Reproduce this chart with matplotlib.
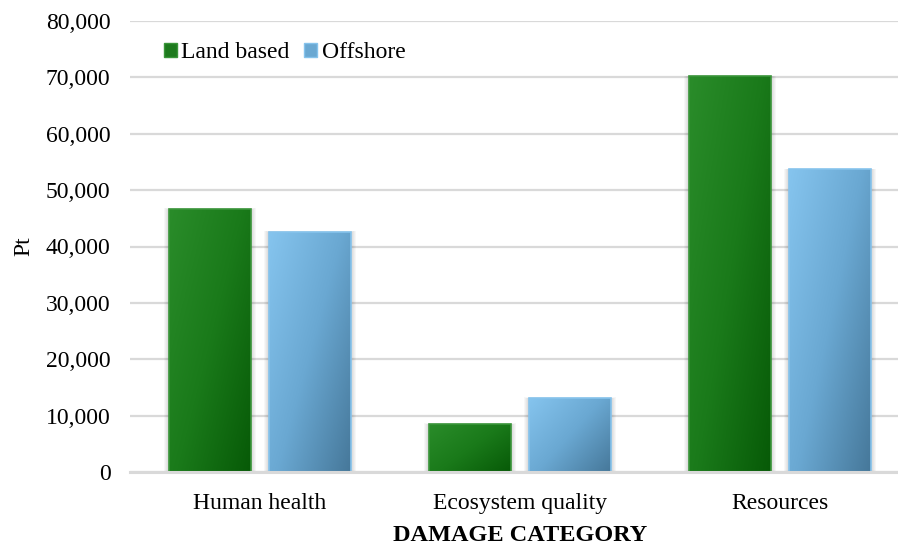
import numpy as np
import matplotlib as mpl
mpl.use('Agg')
import matplotlib.pyplot as plt
from matplotlib.colors import LinearSegmentedColormap
from matplotlib.patches import Rectangle
from matplotlib.ticker import FuncFormatter

categories = ["Human health", "Ecosystem quality", "Resources"]
land_based = [46650, 8500, 70200]
offshore = [42600, 13100, 53700]
series_names = ["Land based", "Offshore"]

plt.rcParams['font.family'] = ['Liberation Serif', 'DejaVu Serif']

green = LinearSegmentedColormap.from_list("green", ["#2a8c2a", "#1a7a1a", "#075a07"])
blue = LinearSegmentedColormap.from_list("blue", ["#85c4ee", "#6aa8d2", "#46789a"])
edges = ["#3a953a", "#86c3ec"]


def gradient_bar(ax, x, w, h, cmap, edge):
    # soft shadow on the sides of the bar
    for k in range(1, 6):
        pad = 0.004 * k
        ax.add_patch(Rectangle((x - pad, 0), w + 2 * pad, h + 25 * k,
                               facecolor="#000000", alpha=0.03,
                               edgecolor="none", zorder=2))
    rect = Rectangle((x, 0), w, h, facecolor="none", edgecolor=edge,
                     linewidth=1.2, zorder=4)
    ax.add_patch(rect)
    gx, gy = np.meshgrid(np.linspace(0, 1, 60), np.linspace(0, 1, 120))
    # light at top-left, dark at bottom-right
    val = 0.55 * gx + 0.45 * gy
    im = ax.imshow(val, extent=(x, x + w, 0, h), origin="upper", cmap=cmap,
                   vmin=0, vmax=1, aspect="auto", zorder=3,
                   interpolation="bilinear")
    im.set_clip_path(rect)


fig = plt.figure(figsize=(8.98, 5.45), dpi=100)
ax = fig.add_axes([130 / 898, 73 / 545, 780 / 898, 451 / 545])

xs = np.arange(len(categories))
width = 0.315
for i in xs:
    gradient_bar(ax, i - 0.192 - width / 2, width, land_based[i], green, edges[0])
    gradient_bar(ax, i + 0.192 - width / 2, width, offshore[i], blue, edges[1])

ax.set_xlim(-0.5, 2.5)
ax.set_ylim(0, 80000)
ax.set_yticks(np.arange(0, 80001, 10000))
ax.yaxis.set_major_formatter(FuncFormatter(lambda v, p: f"{int(v):,}"))
ax.set_xticks(xs)
ax.set_xticklabels(categories)
ax.grid(axis="y", color="#d9d9d9", linewidth=1.6, zorder=0)
ax.set_axisbelow(True)
for s in ["top", "right", "left"]:
    ax.spines[s].set_visible(False)
ax.spines["bottom"].set_color("#d9d9d9")
ax.spines["bottom"].set_linewidth(2.2)
ax.spines["bottom"].set_zorder(5)
ax.tick_params(axis="both", length=0, labelsize=17, colors="black")
ax.tick_params(axis="y", pad=14)
ax.tick_params(axis="x", pad=15)
ax.set_ylabel("Pt", fontsize=17, labelpad=8)
ax.set_xlabel("DAMAGE CATEGORY", fontsize=17.5, fontweight="bold", labelpad=8)

handles = [Rectangle((0, 0), 1, 1, facecolor="#1d7a1d", edgecolor=edges[0]),
           Rectangle((0, 0), 1, 1, facecolor="#6aa8d2", edgecolor=edges[1])]
ax.legend(handles, series_names, loc="upper left", bbox_to_anchor=(0.016, 1.0),
          ncol=2, frameon=False, fontsize=17, handlelength=0.55,
          handleheight=0.55, handletextpad=0.2, columnspacing=0.6)

fig.savefig("out.png", dpi=100)
